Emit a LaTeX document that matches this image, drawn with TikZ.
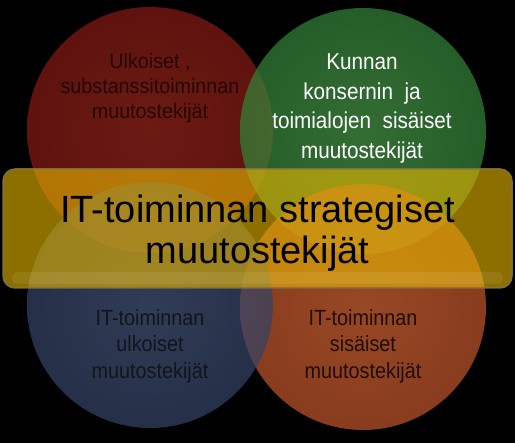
\documentclass[tikz,border=0pt]{standalone}
\usepackage{fontspec}
\setmainfont{Liberation Sans}
\newfontfamily\narrowfnt{Liberation Sans}[FakeStretch=0.9]
\newfontfamily\narrowred{Liberation Sans}[FakeStretch=0.94]
\begin{document}
\begin{tikzpicture}[x=1pt,y=-1pt,
  circ/.style={fill opacity=0.72, draw=none},
  small/.style={align=center, inner sep=0pt},
  banner/.style={rounded corners=12pt, fill={rgb,255:red,235;green,185;blue,0}, fill opacity=0.6,
     draw={rgb,255:red,130;green,115;blue,70}, draw opacity=0.9, line width=1.5pt}
]
\definecolor{redc}{RGB}{132,26,20}
\definecolor{redl}{RGB}{150,38,26}
\definecolor{greenc}{RGB}{52,130,56}
\definecolor{greenl}{RGB}{72,152,72}
\definecolor{bluec}{RGB}{52,66,100}
\definecolor{bluel}{RGB}{68,84,120}
\definecolor{orangec}{RGB}{190,84,42}
\definecolor{orangel}{RGB}{210,100,52}
\useasboundingbox (0,0) rectangle (515,443);
\fill[black] (0,0) rectangle (515,443);
% circles
\shade[circ, inner color=redl, outer color=redc] (150,130) circle[radius=123];
\shade[circ, inner color=greenl, outer color=greenc] (363,131) circle[radius=123];
\shade[circ, inner color=orangel, outer color=orangec] (363,307) circle[radius=123];
\shade[circ, inner color=bluel, outer color=bluec] (150,305) circle[radius=123];
% texts in circles
\node[small, text={rgb,255:red,35;green,8;blue,5}, font={\narrowred\fontsize{21}{25}\selectfont}] (tl) at (150,88)
  {Ulkoiset ,\\substanssitoiminnan\\muutostekijät};
\node[small, text=white, font={\narrowfnt\fontsize{23}{29.7}\selectfont}] (tr) at (362,108.5)
  {Kunnan\\konsernin\ \ ja\\toimialojen\ \ sisäiset\\muutostekijät};
\node[small, text={rgb,255:red,18;green,20;blue,30}, font={\narrowfnt\fontsize{22}{26.5}\selectfont}] (bl) at (150,346)
  {IT-toiminnan\\ulkoiset\\muutostekijät};
\node[small, text={rgb,255:red,30;green,14;blue,5}, font={\narrowfnt\fontsize{22}{26.5}\selectfont}] (br) at (363,346)
  {IT-toiminnan\\sisäiset\\muutostekijät};
% banner
\draw[banner] (3,169) rectangle (512,288);
\fill[white, fill opacity=0.08, rounded corners=6pt] (12,272) rectangle (503,284);
\node[small, text=black, font={\fontsize{38}{41}\selectfont}] (mid) at (257.5,233)
  {IT-toiminnan strategiset\\muutostekijät};
\end{tikzpicture}
\end{document}
